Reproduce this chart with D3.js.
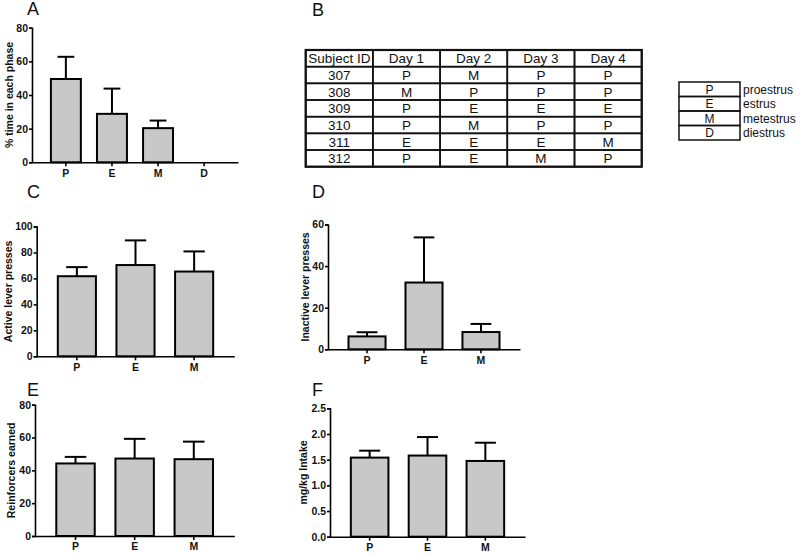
<!DOCTYPE html>
<html>
<head>
<meta charset="utf-8">
<script src="https://cdn.jsdelivr.net/npm/d3@7"></script>
<style>
  body { margin: 0; background: #fff; }
  svg { display: block; font-family: "Liberation Sans", Arial, sans-serif; }
</style>
</head>
<body>
<svg id="chart" width="800" height="554"></svg>
<script>
// phases on the x axis
const phasesA = ['P', 'E', 'M', 'D'];
const phases = ['P', 'E', 'M'];

// panel A: % time in each phase
const timeMean = [49.5, 28.8, 20.3, 0];
const timeSem = [13.2, 15.0, 4.5, 0];
// panel C: active lever presses
const activeMean = [61.7, 70.3, 65.3];
const activeSem = [7.0, 19.0, 15.5];
// panel D: inactive lever presses
const inactiveMean = [6.2, 32.1, 8.3];
const inactiveSem = [2.0, 21.7, 3.9];
// panel E: reinforcers earned
const reinfMean = [44.2, 47.2, 46.8];
const reinfSem = [4.0, 12.0, 10.7];
// panel F: mg/kg intake
const intakeMean = [1.54, 1.58, 1.475];
const intakeSem = [0.135, 0.36, 0.355];

// panel B table
const tableHeader = ['Subject ID', 'Day 1', 'Day 2', 'Day 3', 'Day 4'];
const subjectIds = ['307', '308', '309', '310', '311', '312'];
const day1 = ['P', 'M', 'P', 'P', 'E', 'P'];
const day2 = ['M', 'P', 'E', 'M', 'E', 'E'];
const day3 = ['P', 'P', 'E', 'P', 'E', 'M'];
const day4 = ['P', 'P', 'E', 'P', 'M', 'P'];

// legend
const legendCodes = ['P', 'E', 'M', 'D'];
const legendNames = ['proestrus', 'estrus', 'metestrus', 'diestrus'];

const svg = d3.select('#chart');

function barPanel(cfg) {
  const g = svg.append('g');
  const x = d3.scaleBand().domain(cfg.cats)
    .range([cfg.x0, cfg.x1])
    .paddingInner(0.35).paddingOuter(cfg.po || 0.36);
  const y = d3.scaleLinear().domain(cfg.domain).range([cfg.y0, cfg.y1]);
  const data = cfg.cats.map((c, i) => ({ c, m: cfg.mean[i], e: cfg.sem[i] }))
    .filter(d => d.m > 0);

  // error bars (up only)
  const cap = x.bandwidth() * 0.28;
  const eb = g.selectAll('.eb').data(data).enter().append('g')
    .attr('stroke', '#000').attr('stroke-width', 2);
  eb.append('line')
    .attr('x1', d => x(d.c) + x.bandwidth() / 2).attr('x2', d => x(d.c) + x.bandwidth() / 2)
    .attr('y1', d => y(d.m)).attr('y2', d => y(d.m + d.e));
  eb.append('line')
    .attr('x1', d => x(d.c) + x.bandwidth() / 2 - cap).attr('x2', d => x(d.c) + x.bandwidth() / 2 + cap)
    .attr('y1', d => y(d.m + d.e)).attr('y2', d => y(d.m + d.e));

  g.selectAll('.bar').data(data).enter().append('rect')
    .attr('x', d => x(d.c)).attr('width', x.bandwidth())
    .attr('y', d => y(d.m)).attr('height', d => y(0) - y(d.m))
    .attr('fill', '#c8c8c8').attr('stroke', '#000').attr('stroke-width', 2);

  const yAxis = d3.axisLeft(y).tickValues(cfg.ticks).tickSize(3).tickPadding(1)
    .tickFormat(cfg.fmt || d3.format('d'));
  const ya = g.append('g').attr('transform', `translate(${cfg.x0},0)`).call(yAxis);
  const xAxis = d3.axisBottom(x).tickSize(4).tickSizeOuter(0).tickPadding(3);
  const xa = g.append('g').attr('transform', `translate(0,${cfg.y0})`).call(xAxis);
  [ya, xa].forEach(a => {
    a.selectAll('path, line').attr('stroke', '#000').attr('stroke-width', 1.6);
    a.selectAll('text').attr('font-size', 10.5).attr('font-weight', 'bold').attr('fill', '#111')
      .attr('font-family', '"Liberation Sans", Arial, sans-serif');
  });

  g.append('text')
    .attr('transform', `translate(${cfg.labelX},${(cfg.y0 + cfg.y1) / 2}) rotate(-90)`)
    .attr('text-anchor', 'middle').attr('dy', '0.35em')
    .attr('font-size', 10.5).attr('font-weight', 'bold').attr('fill', '#111')
    .text(cfg.label);

  svg.append('text').attr('x', cfg.letterX).attr('y', cfg.letterY)
    .attr('font-size', 18).attr('fill', '#111').text(cfg.letter);
}

barPanel({ letter: 'A', letterX: 27, letterY: 15, cats: phasesA, mean: timeMean, sem: timeSem,
  x0: 32, x1: 238, y0: 162.3, y1: 27.7, domain: [0, 80], ticks: [0, 20, 40, 60, 80], po: 0.41,
  label: '% time in each phase', labelX: 9 });
barPanel({ letter: 'C', letterX: 27, letterY: 198, cats: phases, mean: activeMean, sem: activeSem,
  x0: 36.7, x1: 234.3, y0: 356.3, y1: 226.5, domain: [0, 100], ticks: [0, 20, 40, 60, 80, 100],
  label: 'Active lever presses', labelX: 8 });
barPanel({ letter: 'D', letterX: 312, letterY: 198, cats: phases, mean: inactiveMean, sem: inactiveSem,
  x0: 328, x1: 520, y0: 349.3, y1: 224.5, domain: [0, 60], ticks: [0, 20, 40, 60],
  label: 'Inactive lever presses', labelX: 305 });
barPanel({ letter: 'E', letterX: 27, letterY: 396, cats: phases, mean: reinfMean, sem: reinfSem,
  x0: 35, x1: 234.3, y0: 536, y1: 404.7, domain: [0, 80], ticks: [0, 20, 40, 60, 80],
  label: 'Reinforcers earned', labelX: 11 });
barPanel({ letter: 'F', letterX: 312, letterY: 396, cats: phases, mean: intakeMean, sem: intakeSem,
  x0: 330, x1: 525, y0: 536.7, y1: 408.3, domain: [0, 2.5], ticks: [0, 0.5, 1, 1.5, 2, 2.5],
  fmt: d3.format('.1f'), label: 'mg/kg Intake', labelX: 303 });

// panel B: table
svg.append('text').attr('x', 312).attr('y', 16).attr('font-size', 18).attr('fill', '#111').text('B');
const rows = [tableHeader].concat(subjectIds.map((s, i) => [s, day1[i], day2[i], day3[i], day4[i]]));
const tx = d3.scaleBand().domain(d3.range(5)).range([305.7, 641.7]);
const ty = d3.scaleBand().domain(d3.range(rows.length)).range([50, 166.7]);
const tbl = svg.append('g');
rows.forEach((r, ri) => {
  r.forEach((v, ci) => {
    tbl.append('rect').attr('x', tx(ci)).attr('y', ty(ri))
      .attr('width', tx.bandwidth()).attr('height', ty.bandwidth())
      .attr('fill', 'none').attr('stroke', '#111').attr('stroke-width', 1.6);
    tbl.append('text').attr('x', tx(ci) + tx.bandwidth() / 2).attr('y', ty(ri) + ty.bandwidth() / 2)
      .attr('dy', '0.36em').attr('text-anchor', 'middle').attr('font-size', 13.5).attr('fill', '#111')
      .text(v);
  });
});
tbl.append('rect').attr('x', 305.7).attr('y', 50).attr('width', 336).attr('height', 116.7)
  .attr('fill', 'none').attr('stroke', '#111').attr('stroke-width', 2.2);

// legend
const ly = d3.scaleBand().domain(legendCodes).range([82, 140]);
const lg = svg.append('g');
lg.selectAll('rect').data(legendCodes).enter().append('rect')
  .attr('x', 679).attr('y', d => ly(d)).attr('width', 61).attr('height', ly.bandwidth())
  .attr('fill', 'none').attr('stroke', '#111').attr('stroke-width', 1.5);
lg.selectAll('.code').data(legendCodes).enter().append('text')
  .attr('x', 709.5).attr('y', d => ly(d) + ly.bandwidth() / 2).attr('dy', '0.36em')
  .attr('text-anchor', 'middle').attr('font-size', 12).attr('fill', '#111').text(d => d);
lg.selectAll('.name').data(legendNames).enter().append('text')
  .attr('x', 743).attr('y', (d, i) => ly(legendCodes[i]) + ly.bandwidth() / 2).attr('dy', '0.36em')
  .attr('font-size', 12).attr('fill', '#111').text(d => d);
</script>
</body>
</html>
